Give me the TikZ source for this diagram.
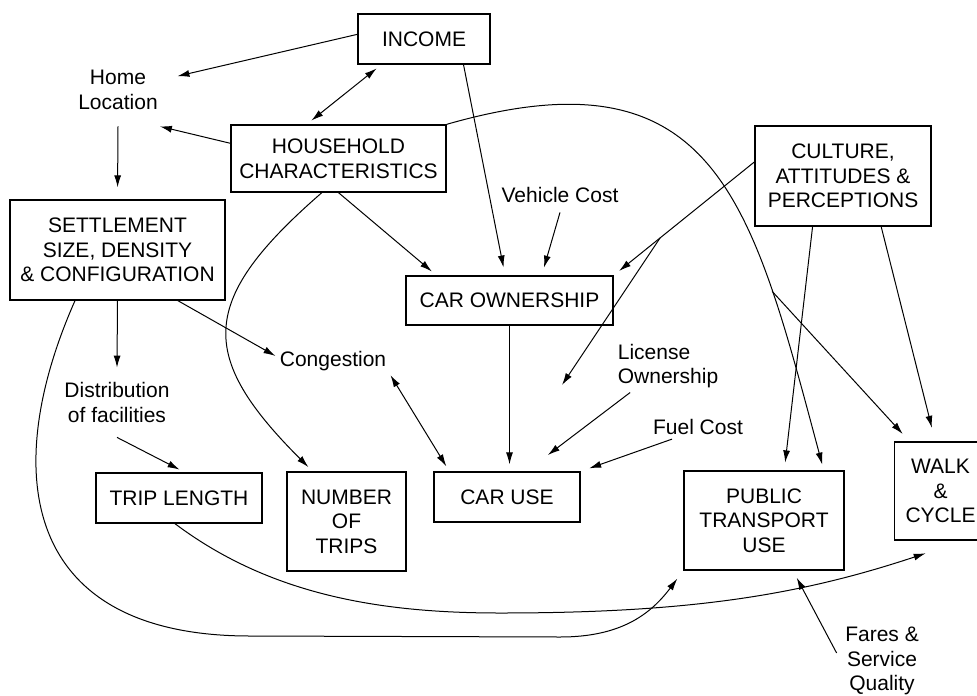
\documentclass[tikz,border=0pt]{standalone}
\usepackage{fontspec}
\setmainfont{Liberation Sans}
\usetikzlibrary{arrows.meta}

\begin{document}
\begin{tikzpicture}[x = 0.5pt, y = -0.5pt,
	>={Latex[length=6pt, width=3.5pt]},
	every node/.style = {font=\fontsize{10.5}{12.3}\selectfont, align=center},
	box/.style = {draw, line width=0.65pt, inner sep=0pt},
	lbl/.style = {inner sep=2pt},
	link/.style = {->, line width=0.5pt}]
\useasboundingbox (0,0) rectangle (977,695);
\clip (0,0) rectangle (977,695);
% boxes
\node[box, minimum width=66pt, minimum height=25pt] (income) at (424,39) {INCOME};
\node[box, minimum width=107.5pt, minimum height=33.5pt] (household) at (338.5,158.5) {HOUSEHOLD\\CHARACTERISTICS};
\node[box, minimum width=107.5pt, minimum height=50pt] (settlement) at (117.5,250) {SETTLEMENT\\SIZE, DENSITY\\\& CONFIGURATION};
\node[box, minimum width=88pt, minimum height=50pt] (culture) at (843,176) {CULTURE,\\ATTITUDES \&\\PERCEPTIONS};
\node[box, minimum width=103.5pt, minimum height=24.5pt] (carown) at (509.5,300.5) {CAR OWNERSHIP};
\node[box, minimum width=83pt, minimum height=25pt] (triplength) at (179,498) {TRIP LENGTH};
\node[box, minimum width=59.5pt, minimum height=49.5pt] (numtrips) at (346.5,521.5) {NUMBER\\OF\\TRIPS};
\node[box, minimum width=73pt, minimum height=25pt] (caruse) at (507,497) {CAR USE};
\node[box, minimum width=80pt, minimum height=49.5pt] (ptuse) at (764,520.5) {PUBLIC\\TRANSPORT\\USE};
\node[box, minimum width=46pt, minimum height=49pt] (walk) at (940.5,491) {WALK\\\&\\CYCLE};
% free labels
\node[lbl, inner sep=0pt, minimum width=59pt, minimum height=36pt] (home) at (118,90) {Home\\Location};
\node[lbl, inner sep=0pt, minimum height=17pt] (vehcost) at (560,195) {Vehicle Cost};
\node[lbl] (congestion) at (333,361) {Congestion};
\node[lbl, inner sep=0pt, minimum height=34.5pt] (distrib) at (117,402.5) {Distribution\\of facilities};
\node[lbl, align=left] (license) at (668,366) {License\\Ownership};
\node[lbl] (fuel) at (698,427) {Fuel Cost};
\node[lbl, minimum width=45pt] (fares) at (882,661) {Fares \&\\Service\\Quality};
\coordinate (licend) at (562,385);
% links
\draw[link] (income.176) -- (home);
\draw[link, <->, shorten <=3pt, shorten >=3pt] (income.211) -- (household.133);
\draw[link] (household.172) -- (home.-41);
\draw[link, shorten >=6pt] (home.south) -- (settlement.north);
\draw[link, shorten >=3pt] (household.south) -- (carown.161);
\draw[link, shorten >=4pt] (income.-33) -- (carown.100);
\draw[link, shorten >=4pt] (vehcost.south) -- (carown.38);
\draw[link, shorten >=3.5pt] (culture.171) -- coordinate[pos=0.67] (cultbr) (carown.north east);
\draw[link] (cultbr) -- (licend);
\draw[link, shorten >=3pt] (household.north east) to[out=16, in=105, looseness=1.4] coordinate[pos=0.75] (hhbr) (ptuse.40);
\draw[link, shorten >=5pt] (hhbr) -- (walk.122);
\draw[link, shorten >=4pt] (culture.-121) -- (ptuse.68);
\draw[link, shorten >=7pt] (culture.-53) -- (walk.96);
\draw[link, shorten >=3.5pt] (carown.south) -- (carown.south |- caruse.north);
\draw[link, shorten >=13.5pt] (license.215) -- (caruse.53);
\draw[link, shorten >=4.5pt] (fuel.-155) -- (caruse.north east);
\draw[link] (settlement.south) -- (distrib.north);
\draw[link] (settlement.-40) -- (congestion.175);
\draw[link, shorten >=3pt] (distrib.south) -- (triplength.77);
\draw[link, shorten >=3pt] (household.-116) to[out=221, in=135, looseness=1.5] (numtrips.124);
\draw[link, <->, shorten >=3pt] (congestion.south east) -- (caruse.156);
\draw[link, shorten >=5pt] (settlement.230) .. controls (0,470) and (20,636) .. (250,636) -- (560,637) .. controls (620,637) and (650,615) .. (ptuse.south west);
\draw[link, shorten >=20pt] (triplength.-99) .. controls (270,595) and (380,613) .. (500,613) .. controls (690,613) and (800,595) .. (walk.-65);
\draw[link, shorten >=4pt] (fares.170) -- (ptuse.-60);
\end{tikzpicture}
\end{document}
